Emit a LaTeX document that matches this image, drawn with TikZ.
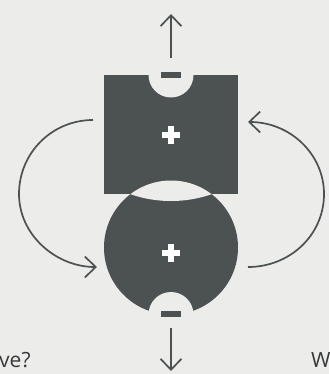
\documentclass[tikz,border=0pt]{standalone}
\usepackage{fontspec}
\setmainfont{Open Sans}
\usetikzlibrary{arrows.meta}
\definecolor{paper}{RGB}{236,236,235}
\definecolor{ink}{RGB}{76,82,81}
\definecolor{txt}{RGB}{55,58,58}
\begin{document}
\begin{tikzpicture}[x=1pt,y=-1pt,
  arr/.style={draw=ink,line width=1.7pt,-{Straight Barb[length=11pt,width=21pt,line width=1.7pt]}},
  lbl/.style={anchor=base west,inner sep=0pt,text=txt,font=\fontsize{21}{25}\selectfont}]
\useasboundingbox (0,0) rectangle (329,374);
\fill[paper] (0,0) rectangle (329,374);
% dark shapes
\fill[ink] (104,75) rectangle (238,194);
\fill[ink] (171,247.5) circle[radius=67pt];
% lens gap
\begin{scope}
  \clip (171,77.4) circle[radius=123.6pt];
  \fill[paper] (171,247.5) circle[radius=67pt];
\end{scope}
% notches
\fill[paper] (171,75) circle[radius=22.5pt];
\fill[paper] (171,314.5) circle[radius=22.5pt];
% minus bars
\fill[ink] (161,72) rectangle (181,78);
\fill[ink] (161,310.5) rectangle (181,316.5);
% plus signs
\fill[white] (162,132) rectangle (180,138);
\fill[white] (168,126) rectangle (174,144);
\fill[white] (162,250) rectangle (180,256);
\fill[white] (168,244) rectangle (174,262);
% straight arrows
\coordinate (ta) at (171,58);
\coordinate (tb) at (171,14);
\coordinate (ba) at (171,328);
\coordinate (bb) at (171,371);
\draw[arr] (ta) -- (tb);
\draw[arr] (ba) -- (bb);
% curved arrows
\coordinate (l1) at (93,120);
\coordinate (l2) at (19,194);
\coordinate (l3) at (97,267);
\coordinate (r1) at (248,267);
\coordinate (r2) at (324,194);
\coordinate (r3) at (248,122);
\draw[arr] (l1) .. controls (52,120) and (19,153) .. (l2) .. controls (19,235) and (56,267) .. (l3);
\draw[arr] (r1) .. controls (290,267) and (324,235) .. (r2) .. controls (324,154) and (290,122) .. (r3);
% text
\node[lbl] (q) at (-1,367) {ve?};
\node[lbl] (w) at (311,367) {W};
\end{tikzpicture}
\end{document}
